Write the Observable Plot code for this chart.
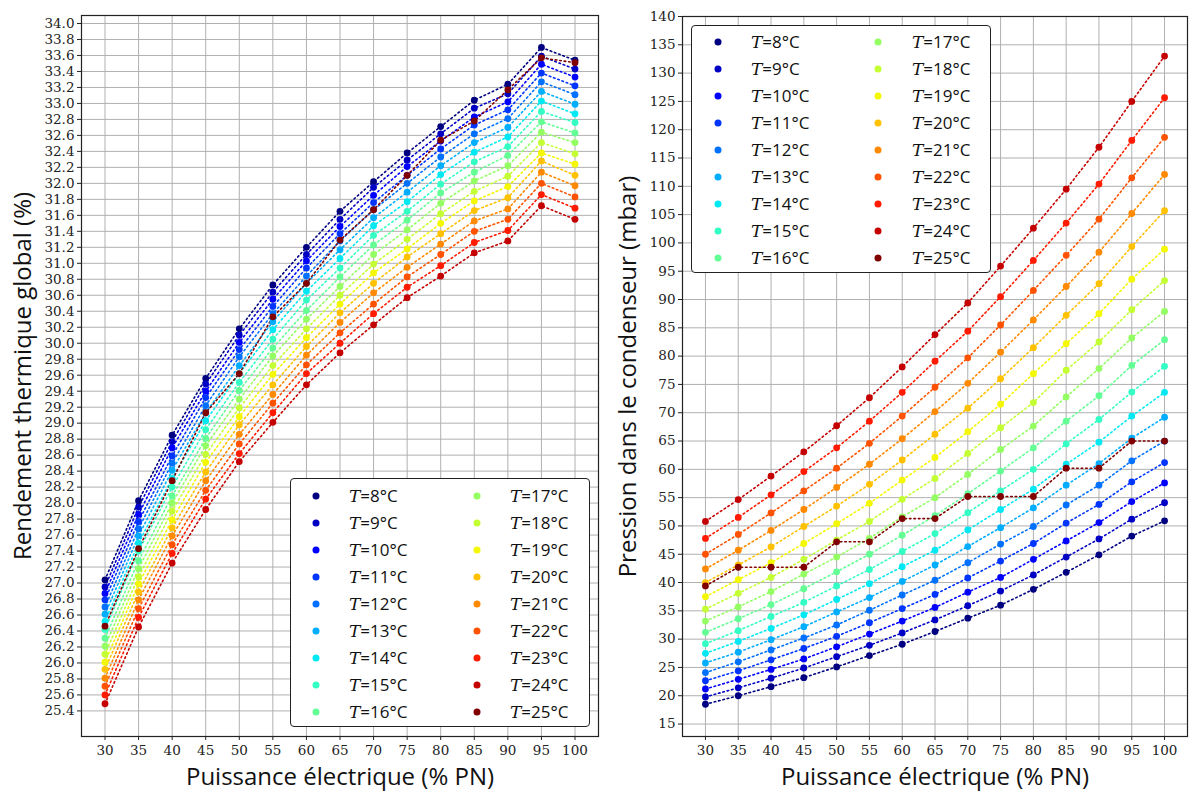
<!DOCTYPE html>
<html>
<head>
<meta charset="utf-8">
<script src="https://cdn.jsdelivr.net/npm/d3@7"></script>
<script src="https://cdn.jsdelivr.net/npm/@observablehq/plot@0.6"></script>
<style>
  body { margin: 0; background: #fff; }
  #fig { position: relative; width: 1189px; height: 792px; overflow: hidden; background: #fff; }
  #fig svg { position: absolute; top: 0; }
  #fig svg g[aria-label$="axis label"] text { font-family: "Open Sans", sans-serif; font-size: 24px; fill: #111; }
  .legend { position: absolute; background: #fff; border: 1.2px solid #222; border-radius: 4px; box-sizing: border-box; }
  .lg-dot { position: absolute; width: 7px; height: 7px; border-radius: 50%; transform: translate(-50%, -50%); }
  .lg-txt { position: absolute; transform: translateY(-50%); font-family: "Open Sans", sans-serif; font-size: 17px; color: #111; white-space: nowrap; line-height: 1; }
  .lg-txt i { font-family: "DejaVu Serif", serif; font-style: italic; }
</style>
</head>
<body>
<div id="fig"></div>
<script>
// ---------------- data ----------------
const puissance = [30, 35, 40, 45, 50, 55, 60, 65, 70, 75, 80, 85, 90, 95, 100];
const temperatures = [8, 9, 10, 11, 12, 13, 14, 15, 16, 17, 18, 19, 20, 21, 22, 23, 24, 25];

// Rendement thermique global (%) — one row per temperature, values at each puissance
const rendement = [
  [27.04, 28.03, 28.85, 29.56, 30.18, 30.73, 31.20, 31.65, 32.02, 32.38, 32.71, 33.04, 33.24, 33.70, 33.54],
  [26.95, 27.95, 28.77, 29.49, 30.10, 30.64, 31.11, 31.55, 31.95, 32.29, 32.62, 32.94, 33.12, 33.59, 33.43],
  [26.87, 27.86, 28.69, 29.40, 30.01, 30.55, 31.03, 31.46, 31.85, 32.21, 32.53, 32.83, 33.02, 33.49, 33.33],
  [26.79, 27.77, 28.59, 29.32, 29.92, 30.46, 30.94, 31.37, 31.76, 32.10, 32.43, 32.73, 32.92, 33.38, 33.22],
  [26.70, 27.68, 28.50, 29.22, 29.83, 30.37, 30.84, 31.28, 31.67, 32.00, 32.33, 32.62, 32.81, 33.27, 33.11],
  [26.61, 27.59, 28.41, 29.13, 29.72, 30.27, 30.75, 31.17, 31.57, 31.89, 32.22, 32.51, 32.70, 33.15, 32.99],
  [26.52, 27.50, 28.31, 29.03, 29.62, 30.17, 30.65, 31.06, 31.47, 31.77, 32.11, 32.39, 32.58, 33.03, 32.87],
  [26.42, 27.40, 28.20, 28.92, 29.51, 30.05, 30.54, 30.94, 31.35, 31.65, 31.99, 32.27, 32.46, 32.90, 32.76],
  [26.31, 27.28, 28.09, 28.81, 29.41, 29.94, 30.41, 30.83, 31.23, 31.54, 31.88, 32.14, 32.35, 32.77, 32.63],
  [26.21, 27.18, 28.00, 28.72, 29.30, 29.84, 30.30, 30.71, 31.11, 31.42, 31.75, 32.03, 32.22, 32.64, 32.51],
  [26.11, 27.08, 27.90, 28.61, 29.19, 29.72, 30.18, 30.60, 30.99, 31.30, 31.62, 31.90, 32.09, 32.51, 32.37],
  [26.01, 26.99, 27.79, 28.51, 29.08, 29.61, 30.07, 30.49, 30.88, 31.18, 31.50, 31.78, 31.96, 32.38, 32.24],
  [25.92, 26.89, 27.69, 28.39, 28.98, 29.48, 29.96, 30.38, 30.75, 31.08, 31.37, 31.66, 31.82, 32.28, 32.10],
  [25.81, 26.79, 27.59, 28.28, 28.86, 29.36, 29.85, 30.26, 30.63, 30.95, 31.24, 31.53, 31.68, 32.14, 31.97],
  [25.71, 26.68, 27.48, 28.16, 28.74, 29.25, 29.73, 30.13, 30.49, 30.83, 31.11, 31.40, 31.55, 32.00, 31.83],
  [25.60, 26.57, 27.37, 28.05, 28.62, 29.13, 29.62, 30.00, 30.37, 30.70, 30.97, 31.26, 31.41, 31.86, 31.69],
  [25.49, 26.45, 27.25, 27.92, 28.52, 29.01, 29.48, 29.88, 30.23, 30.57, 30.84, 31.13, 31.28, 31.72, 31.55],
  [26.46, 27.43, 28.28, 29.13, 29.62, 30.33, 30.75, 31.29, 31.67, 32.10, 32.54, 32.78, 33.17, 33.57, 33.51]
];

// Pression dans le condenseur (mbar)
const pression = [
  [18.5, 20.0, 21.6, 23.2, 25.1, 27.1, 29.1, 31.35, 33.7, 36.0, 38.8, 41.8, 44.9, 48.2, 50.9],
  [19.8, 21.4, 23.1, 24.9, 26.9, 28.9, 31.1, 33.4, 35.9, 38.5, 41.35, 44.5, 47.7, 51.2, 54.1],
  [21.2, 22.9, 24.65, 26.5, 28.65, 30.9, 33.2, 35.6, 38.3, 40.9, 44.1, 47.35, 50.6, 54.3, 57.6],
  [22.65, 24.4, 26.35, 28.35, 30.5, 32.9, 35.4, 37.9, 40.8, 43.8, 46.9, 50.5, 53.8, 57.8, 61.2],
  [24.1, 26.0, 28.1, 30.2, 32.5, 35.1, 37.8, 40.4, 43.5, 46.8, 49.9, 53.7, 57.2, 61.5, 65.0],
  [25.8, 27.7, 29.9, 32.2, 34.8, 37.35, 40.2, 43.1, 46.35, 49.7, 53.2, 57.2, 61.0, 65.5, 69.2],
  [27.5, 29.6, 31.9, 34.3, 37.0, 39.8, 42.8, 45.7, 49.3, 52.9, 56.5, 60.9, 64.8, 69.4, 73.6],
  [29.2, 31.5, 34.0, 36.5, 39.4, 42.3, 45.5, 48.65, 52.35, 56.2, 60.0, 64.5, 68.8, 73.65, 78.2],
  [31.2, 33.6, 36.1, 38.9, 41.9, 45.0, 48.35, 51.8, 55.7, 59.7, 63.8, 68.5, 73.0, 78.35, 82.9],
  [33.2, 35.7, 38.4, 41.5, 44.5, 47.8, 51.6, 55.0, 59.1, 63.5, 67.65, 72.8, 77.8, 83.2, 87.9],
  [35.3, 38.1, 40.9, 44.1, 47.5, 50.8, 54.7, 58.4, 62.8, 67.35, 71.8, 77.5, 82.5, 88.2, 93.35],
  [37.5, 40.5, 43.5, 46.9, 50.4, 54.0, 58.1, 62.1, 66.65, 71.5, 76.9, 82.2, 87.5, 93.6, 98.9],
  [40.0, 43.1, 46.3, 49.9, 53.5, 57.35, 61.65, 66.2, 70.8, 76.0, 81.5, 87.2, 92.8, 99.35, 105.7],
  [42.4, 45.7, 49.2, 52.9, 56.8, 60.9, 65.4, 70.2, 75.2, 80.7, 86.4, 92.3, 98.35, 105.2, 112.1],
  [45.0, 48.5, 52.3, 56.2, 60.2, 64.6, 69.4, 74.5, 79.7, 85.5, 91.6, 97.8, 104.2, 111.5, 118.65],
  [47.8, 51.5, 55.5, 59.6, 63.8, 68.5, 73.6, 79.1, 84.4, 90.5, 96.9, 103.5, 110.4, 118.1, 125.65],
  [50.8, 54.65, 58.8, 63.1, 67.7, 72.65, 78.1, 83.8, 89.4, 95.9, 102.6, 109.5, 116.9, 125.0, 133.0],
  [39.4, 42.7, 42.7, 42.7, 47.2, 47.2, 51.3, 51.3, 55.2, 55.2, 55.2, 60.2, 60.2, 65.0, 65.0]
];

const ticksRendement = d3.range(254, 341, 2).map(d => d / 10);
const ticksPression = d3.range(15, 141, 5);

// ---------------- colours (matplotlib "jet") ----------------
function interp(pts, t) {
  for (let k = 0; k < pts.length - 1; k++) {
    const [x0, y0] = pts[k], [x1, y1] = pts[k + 1];
    if (t <= x1) return y0 + (y1 - y0) * (t - x0) / (x1 - x0);
  }
  return pts[pts.length - 1][1];
}
function jet(t) {
  const r = interp([[0,0],[0.35,0],[0.66,1],[0.89,1],[1,0.5]], t);
  const g = interp([[0,0],[0.125,0],[0.375,1],[0.64,1],[0.91,0],[1,0]], t);
  const b = interp([[0,0.5],[0.11,1],[0.34,1],[0.65,0],[1,0]], t);
  return d3.rgb(r * 255, g * 255, b * 255).formatHex();
}
const colors = temperatures.map((T, i) => jet(i / (temperatures.length - 1)));

function rowsOf(values) {
  return temperatures.flatMap((T, i) => puissance.map((p, j) => ({T, p, v: values[i][j], c: colors[i]})));
}

const fig = document.getElementById("fig");

function panel({values, yDomain, yTicks, yFormat, yLabel, left, width, mt, labelOffset}) {
  const rows = rowsOf(values);
  const svg = Plot.plot({
    width, height: 792,
    marginLeft: 81, marginRight: 2, marginTop: mt, marginBottom: 56,
    x: {domain: [26.5, 103.5]},
    y: {domain: yDomain},
    color: {type: "identity"},
    style: {fontFamily: "DejaVu Serif, serif", fontSize: "13.5px", color: "#222", background: "transparent"},
    marks: [
      Plot.gridX(puissance, {stroke: "#b0b0b0", strokeOpacity: 1, strokeWidth: 1}),
      Plot.gridY(yTicks, {stroke: "#b0b0b0", strokeOpacity: 1, strokeWidth: 1}),
      Plot.axisX(puissance, {tickSize: 4, tickPadding: 5, tickFormat: d => String(d),
        label: "Puissance électrique (% PN)", labelAnchor: "center", labelArrow: "none", labelOffset: 48}),
      Plot.axisY(yTicks, {tickSize: 4, tickPadding: 3, tickFormat: yFormat,
        label: yLabel, labelAnchor: "center", labelArrow: "none", labelOffset}),
      Plot.line(rows, {x: "p", y: "v", z: "T", stroke: "c", strokeWidth: 1.6, strokeDasharray: "1.6,2.9"}),
      Plot.dot(rows, {x: "p", y: "v", fill: "c", r: 3.4}),
      Plot.frame({stroke: "#222", strokeWidth: 1.2})
    ]
  });
  svg.style.left = left + "px";
  fig.appendChild(svg);
}

panel({values: rendement, yDomain: [25.08, 34.1], yTicks: ticksRendement, yFormat: d => d.toFixed(1),
  yLabel: "Rendement thermique global (%)", left: 0, width: 600, mt: 15, labelOffset: 68});
panel({values: pression, yDomain: [12.8, 140], yTicks: ticksPression, yFormat: d => String(d),
  yLabel: "Pression dans le condenseur (mbar)", left: 601, width: 588, mt: 16, labelOffset: 64});

// ---------------- legends ----------------
function legend(box, rows) {
  const div = document.createElement("div");
  div.className = "legend";
  Object.assign(div.style, {left: box.x + "px", top: box.y + "px", width: box.w + "px", height: box.h + "px"});
  temperatures.forEach((T, i) => {
    const col = Math.floor(i / 9), row = i % 9;
    const cy = rows.y0 + row * 27 - box.y;
    const dot = document.createElement("div");
    dot.className = "lg-dot";
    Object.assign(dot.style, {left: (rows.dx[col] - box.x) + "px", top: cy + "px", background: colors[i]});
    const txt = document.createElement("div");
    txt.className = "lg-txt";
    txt.innerHTML = `<i>T</i>=${T}°C`;
    Object.assign(txt.style, {left: (rows.tx[col] - box.x) + "px", top: cy + "px"});
    div.appendChild(dot); div.appendChild(txt);
  });
  fig.appendChild(div);
}
legend({x: 290, y: 478, w: 300, h: 249}, {y0: 495, dx: [315, 476], tx: [348, 509]});
legend({x: 691, y: 25, w: 300, h: 248}, {y0: 41, dx: [717, 877], tx: [750, 911]});
</script>
</body>
</html>
